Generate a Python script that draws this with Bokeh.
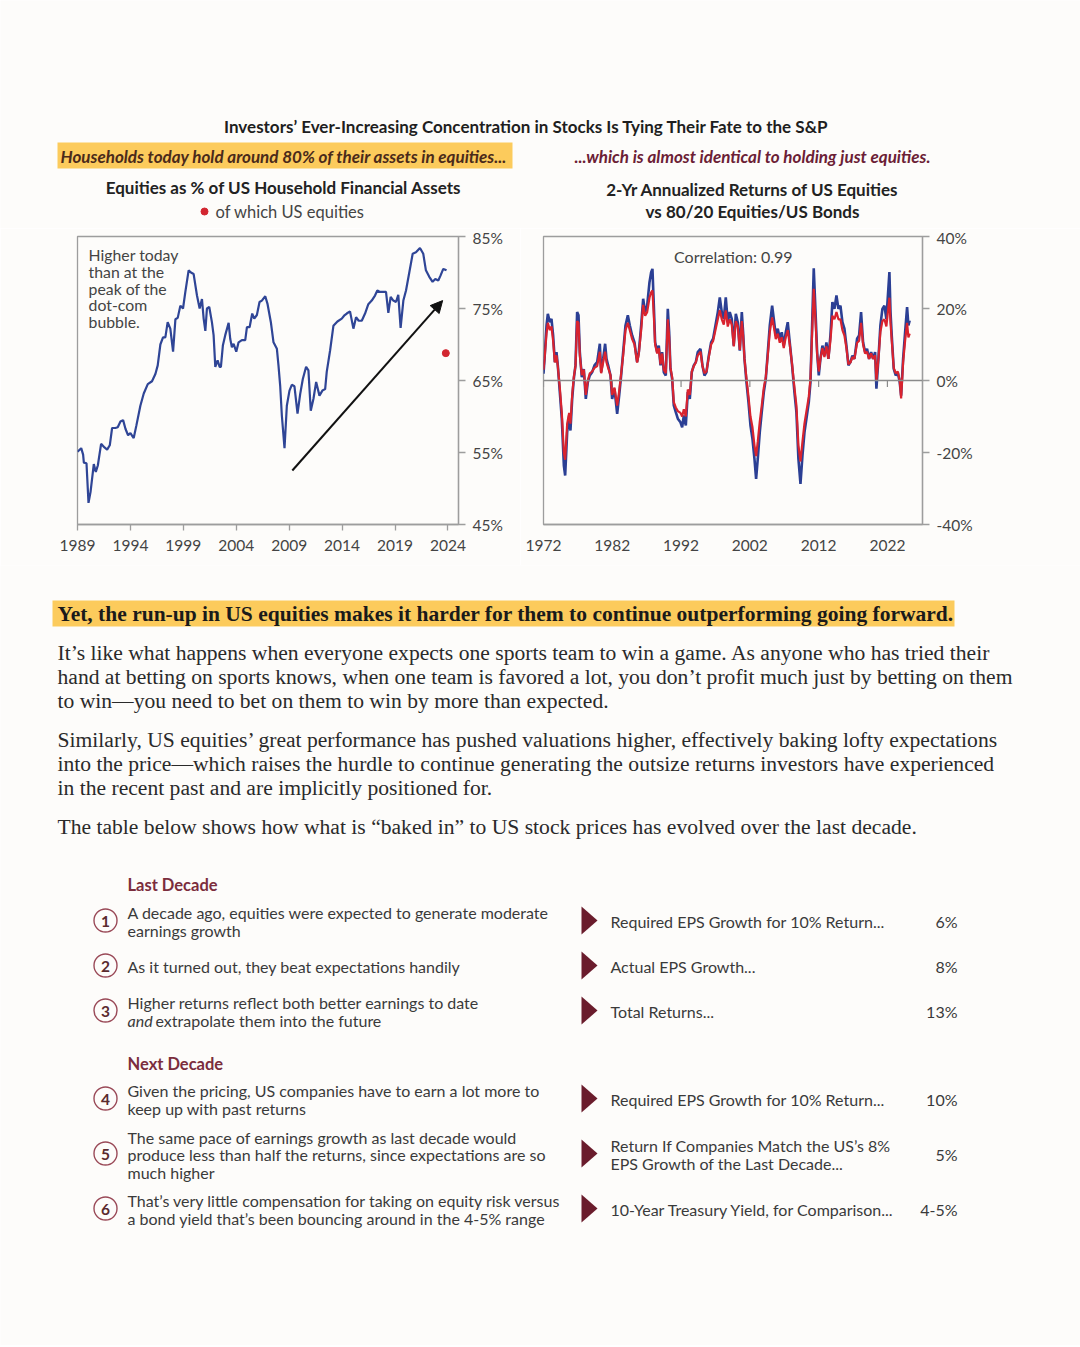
from bokeh.plotting import figure
from bokeh.layouts import column, row
from bokeh.models import Range1d, FixedTicker, PrintfTickFormatter, Span, Arrow, NormalHead
from bokeh.core.properties import value
from bokeh.embed import file_html
from bokeh.resources import INLINE

# ---------------- data ----------------
# Left chart: Equities as % of US household financial assets
hh_years = [1989.00,1989.35,1989.53,1989.60,1989.85,1990.04,1990.23,1990.54,1990.73,1990.92,
            1991.23,1991.55,1991.80,1992.05,1992.27,1992.58,1992.80,1993.06,1993.31,1993.53,
            1993.78,1994.00,1994.31,1994.57,1994.94,1995.26,1995.64,1996.04,1996.36,1996.58,
            1996.83,1997.08,1997.30,1997.52,1997.77,1998.03,1998.25,1998.47,1998.72,1998.97,
            1999.19,1999.50,1999.72,1999.97,2000.29,2000.54,2000.76,2000.92,2001.08,2001.23,
            2001.45,2001.70,2001.86,2002.02,2002.24,2002.43,2002.55,2002.74,2002.96,2003.28,
            2003.43,2003.59,2003.75,2004.00,2004.22,2004.53,2004.85,2005.01,2005.26,2005.51,
            2005.70,2005.95,2006.20,2006.42,2006.74,2006.96,2007.27,2007.52,2007.84,2007.99,
            2008.15,2008.31,2008.56,2008.78,2009.03,2009.25,2009.50,2009.79,2010.04,2010.29,
            2010.60,2010.82,2011.04,2011.30,2011.55,2011.86,2012.14,2012.40,2012.55,2012.87,
            2013.18,2013.56,2013.97,2014.19,2014.44,2014.75,2015.07,2015.32,2015.57,2015.86,
            2016.17,2016.48,2016.80,2017.11,2017.33,2017.58,2017.90,2018.15,2018.37,2018.59,
            2018.84,2019.09,2019.31,2019.53,2019.79,2020.04,2020.35,2020.67,2020.98,2021.36,
            2021.67,2021.92,2022.24,2022.55,2022.81,2023.09,2023.31,2023.56,2023.87]
hh_equity_pct = [55.1,55.6,54.7,53.6,53.5,48.0,49.5,53.4,52.3,53.2,
                 56.2,55.7,55.4,56.0,58.4,58.4,58.5,59.3,59.5,58.3,
                 57.4,57.7,57.0,58.8,61.5,63.2,64.5,64.9,65.9,67.1,
                 70.0,71.0,71.0,73.1,72.2,69.0,73.5,73.7,75.4,75.0,
                 77.3,80.3,80.0,79.8,76.8,75.0,76.3,73.6,71.9,75.0,
                 75.2,73.1,71.3,66.9,67.8,66.9,66.9,69.9,71.3,73.0,
                 70.8,69.6,70.1,69.0,70.3,70.6,70.6,72.4,72.4,74.3,
                 73.6,74.1,75.9,76.1,76.7,75.6,73.1,70.3,69.4,67.1,
                 64.3,60.1,55.6,61.5,63.6,64.4,64.2,60.4,63.1,65.2,
                 66.9,66.4,60.8,62.5,64.8,62.9,63.6,63.8,66.2,69.2,
                 72.6,73.2,73.6,74.0,74.3,74.6,72.2,73.8,73.3,73.3,
                 74.3,75.6,76.1,76.8,77.5,77.3,77.3,77.3,74.4,76.6,
                 76.1,75.9,76.9,72.3,76.1,77.5,80.0,82.6,82.8,83.4,
                 82.6,80.3,79.4,78.7,79.1,78.9,79.6,80.5,80.3]
us_only_year = [2023.8]
us_only_pct = [68.8]
trend_arrow = dict(x_start=2009.3, y_start=52.5, x_end=2023.5, y_end=76.1)

# Right chart: 2-yr annualized returns
ret_years = [1972.00,1972.15,1972.44,1972.63,1972.92,1973.16,1973.40,1973.65,1973.89,1974.08,
             1974.37,1974.66,1974.96,1975.15,1975.44,1975.73,1975.92,1976.17,1976.41,1976.65,
             1976.89,1977.09,1977.28,1977.57,1977.86,1978.15,1978.44,1978.73,1979.07,1979.41,
             1979.80,1980.19,1980.38,1980.67,1980.96,1981.16,1981.40,1981.74,1981.98,1982.32,
             1982.71,1983.00,1983.29,1983.58,1983.92,1984.26,1984.55,1984.89,1985.23,1985.61,
             1985.86,1986.20,1986.49,1986.78,1987.07,1987.41,1987.65,1987.84,1988.04,1988.23,
             1988.52,1988.76,1989.01,1989.25,1989.49,1989.78,1990.07,1990.27,1990.46,1990.70,
             1990.94,1991.23,1991.53,1991.91,1992.16,1992.40,1992.69,1992.98,1993.27,1993.56,
             1993.85,1994.14,1994.43,1994.82,1995.11,1995.40,1995.69,1996.03,1996.37,1996.66,
             1997.00,1997.34,1997.63,1997.92,1998.21,1998.50,1998.79,1999.08,1999.37,1999.66,
             1999.96,2000.25,2000.54,2000.83,2001.02,2001.22,2001.51,2001.80,2002.09,2002.38,
             2002.67,2002.91,2003.15,2003.44,2003.73,2004.03,2004.32,2004.61,2004.90,2005.24,
             2005.48,2005.77,2006.06,2006.35,2006.64,2006.93,2007.22,2007.51,2007.80,2008.14,
             2008.48,2008.77,2009.06,2009.36,2009.65,2009.94,2010.23,2010.57,2010.81,2011.05,
             2011.29,2011.53,2011.78,2012.02,2012.26,2012.55,2012.84,2013.13,2013.42,2013.71,
             2014.00,2014.30,2014.59,2014.88,2015.17,2015.46,2015.75,2016.04,2016.33,2016.62,
             2016.91,2017.20,2017.59,2017.88,2018.17,2018.46,2018.75,2019.04,2019.33,2019.63,
             2019.92,2020.21,2020.40,2020.69,2020.98,2021.27,2021.56,2021.85,2022.29,2022.45,
             2022.63,2022.92,2023.21,2023.50,2023.79,2023.99,2024.28,2024.57,2024.86,2025.05,
             2025.24]
ret_us_equities = [1.9,6.0,15.3,18.5,16.2,17.1,12.5,5.1,7.9,4.2,
                   -3.2,-10.6,-23.6,-26.4,-14.4,-9.7,-13.9,-5.1,0.5,4.2,
                   19.0,18.1,7.9,0.9,3.2,-5.1,-0.5,1.4,2.3,4.2,
                   5.1,10.2,2.3,6.0,10.2,6.0,4.2,1.4,-5.1,-2.3,
                   -9.3,-4.2,1.4,7.9,15.3,18.1,15.3,12.5,10.6,5.1,
                   7.9,15.3,22.7,19.0,20.8,27.3,30.1,31.0,20.8,10.6,
                   7.9,9.7,4.2,7.9,2.3,1.4,19.9,13.4,3.2,0.5,
                   -6.9,-8.8,-10.6,-11.6,-13.0,-9.7,-12.5,-3.2,-5.1,2.3,
                   4.2,5.1,7.9,8.8,4.2,1.4,2.3,6.9,10.6,11.6,
                   15.3,19.0,23.1,19.0,17.1,23.1,16.2,19.0,17.1,9.7,
                   18.5,16.2,8.3,19.0,13.4,6.0,-0.5,-6.0,-12.5,-16.2,
                   -21.8,-27.3,-21.8,-14.4,-8.8,-3.2,0.5,7.9,15.3,20.8,
                   17.1,12.5,14.4,11.6,13.4,9.7,13.4,16.2,10.6,4.2,
                   -3.2,-8.8,-21.8,-28.7,-20.8,-14.4,-10.6,-6.0,-0.5,15.3,
                   31.2,19.9,7.9,1.4,6.0,9.7,6.9,10.6,6.0,12.5,
                   21.8,19.9,23.6,19.9,20.8,16.2,14.4,9.7,4.2,5.1,
                   6.9,6.0,11.6,12.5,19.0,10.6,7.9,8.8,6.0,7.9,
                   6.0,7.9,-2.3,6.0,15.3,19.9,20.8,17.1,30.1,19.0,
                   12.5,3.2,1.4,2.3,-0.5,-4.2,6.0,13.4,20.4,15.3,
                   16.7]
ret_80_20 = [3.0,6.0,13.0,16.0,14.0,15.0,11.0,5.0,7.0,4.0,
             -2.0,-9.0,-20.0,-22.0,-12.0,-9.0,-12.0,-4.0,1.0,4.0,
             16.5,16.0,7.0,1.5,3.0,-4.0,0.0,2.0,2.5,3.5,
             4.0,8.0,2.0,5.0,8.0,5.0,3.5,1.5,-4.0,-2.0,
             -7.0,-3.0,2.0,7.0,14.0,16.0,14.0,11.5,10.0,5.0,
             7.5,14.0,21.0,18.0,19.0,23.0,24.5,25.0,18.0,10.0,
             7.5,9.0,4.5,7.5,3.0,2.0,17.0,12.0,3.5,1.0,
             -6.0,-7.5,-8.5,-9.0,-10.0,-8.0,-10.0,-2.5,-4.0,2.5,
             4.0,5.0,7.0,8.0,4.0,2.0,2.5,6.5,10.0,11.0,
             14.0,17.0,19.5,17.0,15.5,19.5,15.0,17.0,15.5,9.5,
             16.5,15.0,8.5,16.5,12.5,6.0,0.5,-4.5,-10.0,-13.0,
             -18.0,-21.0,-17.0,-11.5,-7.0,-2.0,1.0,7.0,13.5,17.5,
             15.0,11.5,13.0,10.5,12.0,9.0,12.0,14.0,10.0,4.5,
             -2.0,-7.0,-18.0,-22.5,-17.0,-12.0,-8.5,-4.5,0.5,13.0,
             25.5,17.0,7.5,2.5,6.0,9.0,6.5,9.5,6.0,11.0,
             18.0,17.0,19.0,17.0,17.0,14.0,12.5,9.0,4.5,5.0,
             6.5,6.0,10.5,11.0,16.0,10.0,7.5,8.0,6.0,7.5,
             6.0,7.0,0.0,6.0,13.5,16.5,17.0,15.0,23.0,16.0,
             11.0,3.5,2.0,2.5,0.0,-5.0,5.0,11.0,16.0,12.0,
             13.0]
correlation_label = "Correlation: 0.99"

left_x_ticks = [1989, 1994, 1999, 2004, 2009, 2014, 2019, 2024]
left_y_ticks = [45, 55, 65, 75, 85]
right_x_ticks = [1972, 1982, 1992, 2002, 2012, 2022]
right_y_ticks = [-40, -20, 0, 20, 40]

annotation_lines = ["Higher today", "than at the", "peak of the", "dot-com", "bubble."]

# Table
section_titles = ["Last Decade", "Next Decade"]
row_numbers = ["1", "2", "3", "4", "5", "6"]
row_desc = [
    ["A decade ago, equities were expected to generate moderate", "earnings growth"],
    ["As it turned out, they beat expectations handily"],
    ["Higher returns reflect both better earnings to date", "*and* extrapolate them into the future"],
    ["Given the pricing, US companies have to earn a lot more to", "keep up with past returns"],
    ["The same pace of earnings growth as last decade would",
     "produce less than half the returns, since expectations are so", "much higher"],
    ["That\u2019s very little compensation for taking on equity risk versus",
     "a bond yield that\u2019s been bouncing around in the 4-5% range"],
]
row_metric = [
    ["Required EPS Growth for 10% Return..."],
    ["Actual EPS Growth..."],
    ["Total Returns..."],
    ["Required EPS Growth for 10% Return..."],
    ["Return If Companies Match the US\u2019s 8%", "EPS Growth of the Last Decade..."],
    ["10-Year Treasury Yield, for Comparison..."],
]
row_value = ["6%", "8%", "13%", "10%", "5%", "4-5%"]

paragraphs = [
    ["It\u2019s like what happens when everyone expects one sports team to win a game. As anyone who has tried their",
     "hand at betting on sports knows, when one team is favored a lot, you don\u2019t profit much just by betting on them",
     "to win\u2014you need to bet on them to win by more than expected."],
    ["Similarly, US equities\u2019 great performance has pushed valuations higher, effectively baking lofty expectations",
     "into the price\u2014which raises the hurdle to continue generating the outsize returns investors have experienced",
     "in the recent past and are implicitly positioned for."],
    ["The table below shows how what is \u201cbaked in\u201d to US stock prices has evolved over the last decade."],
]

# ---------------- style ----------------
BG = "#fdfcfa"
SANS = "Lato"
SERIF = "Liberation Serif"
YELLOW = "#fccb5c"
MAROON = "#6a1c2c"
AXIS_GRAY = "#9d9d9d"
LABEL_GRAY = "#444444"


def canvas(w, h, x0, y0):
    p = figure(width=w, height=h, x_range=Range1d(x0, x0 + w), y_range=Range1d(y0 + h, y0),
               x_axis_type=None, y_axis_type=None, output_backend="svg", toolbar_location=None,
               min_border=0)
    p.grid.visible = False
    p.outline_line_color = None
    p.background_fill_color = BG
    p.border_fill_color = BG
    return p


def txt(p, x, y, s, size=15, color="#333333", font=SANS, style="normal", align="left"):
    p.text(x=[x], y=[y], text=[s], text_font=value(font), text_font_size=f"{size}px",
           text_color=color, text_font_style=style, text_align=align, text_baseline="middle")


# ---------------- header (page y 0..228) ----------------
head = canvas(1080, 228, 0, 0)
txt(head, 526, 126, "Investors\u2019 Ever-Increasing Concentration in Stocks Is Tying Their Fate to the S&P",
    size=17, color="#1e1e1e", style="bold", align="center")
head.quad(left=[57], right=[512], top=[142], bottom=[168], fill_color=YELLOW, line_color=None)
txt(head, 60, 156, "Households today hold around 80% of their assets in equities...",
    size=17, color="#4a2a1a", style="bold italic")
txt(head, 752, 156, "...which is almost identical to holding just equities.",
    size=17, color="#6b2035", style="bold italic", align="center")
txt(head, 283, 187, "Equities as % of US Household Financial Assets", size=17, color="#222222",
    style="bold", align="center")
head.scatter(x=[204], y=[211], size=7, color="#d22630")
txt(head, 215, 211, "of which US equities", size=16.5, color=LABEL_GRAY)
txt(head, 752, 189, "2-Yr Annualized Returns of US Equities", size=17, color="#222222",
    style="bold", align="center")
txt(head, 752, 211, "vs 80/20 Equities/US Bonds", size=17, color="#222222", style="bold", align="center")


def style_axes(p):
    p.grid.visible = False
    p.background_fill_color = BG
    p.border_fill_color = BG
    p.outline_line_color = AXIS_GRAY
    p.outline_line_width = 1.3
    for ax in p.axis:
        ax.axis_line_color = AXIS_GRAY
        ax.axis_line_width = 1.3
        ax.major_tick_line_color = AXIS_GRAY
        ax.major_tick_line_width = 1.3
        ax.minor_tick_line_color = None
        ax.major_tick_in = 0
        ax.major_tick_out = 7
        ax.major_label_standoff = 7
        ax.major_label_text_font = SANS
        ax.major_label_text_font_size = "15.5px"
        ax.major_label_text_color = LABEL_GRAY


# ---------------- left chart (page x 0..520, y 228..565) ----------------
pl = figure(width=520, height=337, x_range=Range1d(1989, 2025), y_range=Range1d(45, 85),
            y_axis_location="right", output_backend="svg", toolbar_location=None,
            min_border_left=77, min_border_right=62, min_border_top=8, min_border_bottom=41)
style_axes(pl)
pl.xaxis.ticker = FixedTicker(ticks=left_x_ticks)
pl.xaxis.major_tick_out = 6
pl.xaxis.major_label_standoff = 9
pl.yaxis.ticker = FixedTicker(ticks=left_y_ticks)
pl.yaxis.formatter = PrintfTickFormatter(format="%d%%")
pl.line(hh_years, hh_equity_pct, line_color="#2f4596", line_width=2.2)
pl.scatter(us_only_year, us_only_pct, size=7, color="#d22630")
pl.add_layout(Arrow(end=NormalHead(size=12, fill_color="#111111", line_color="#111111"),
                    line_color="#111111", line_width=2, **trend_arrow))
for i, s in enumerate(annotation_lines):
    pl.text(x=[1990.05], y=[82.5 - i * 2.33], text=[s], text_font=value(SANS), text_font_size="15.8px",
            text_color=LABEL_GRAY, text_baseline="middle", text_align="left")

# ---------------- right chart (page x 520..1080, y 228..565) ----------------
pr = figure(width=560, height=337, x_range=Range1d(1972, 2027.1), y_range=Range1d(-40, 40),
            y_axis_location="right", output_backend="svg", toolbar_location=None,
            min_border_left=23, min_border_right=158, min_border_top=8, min_border_bottom=41)
style_axes(pr)
pr.xaxis.ticker = FixedTicker(ticks=right_x_ticks)
pr.xaxis.major_tick_line_color = None
pr.xaxis.major_label_standoff = 8
pr.yaxis.ticker = FixedTicker(ticks=right_y_ticks)
pr.yaxis.formatter = PrintfTickFormatter(format="%d%%")
pr.add_layout(Span(location=0, dimension="width", line_color="#8a8a8a", line_width=1.5))
pr.segment(x0=right_x_ticks, x1=right_x_ticks, y0=[0] * len(right_x_ticks), y1=[-1.8] * len(right_x_ticks),
           line_color="#8a8a8a", line_width=1.2)
pr.line(ret_years, ret_us_equities, line_color="#2b3f94", line_width=2.6)
pr.line(ret_years, ret_80_20, line_color="#d9232e", line_width=2.2)
pr.text(x=[1999.6], y=[34.4], text=[correlation_label], text_font=value(SANS), text_font_size="16px",
        text_color=LABEL_GRAY, text_baseline="middle", text_align="center")

# ---------------- bottom text & table (page y 565..1345) ----------------
bot = canvas(1080, 780, 0, 565)
bot.quad(left=[52], right=[954], top=[600], bottom=[626], fill_color=YELLOW, line_color=None)
txt(bot, 57, 613, "Yet, the run-up in US equities makes it harder for them to continue outperforming going forward.",
    size=21.5, color="#1a1a1a", font=SERIF, style="bold")
para_y = [[652, 676, 700], [739, 763, 787], [826]]
for lines, ys in zip(paragraphs, para_y):
    for s, y in zip(lines, ys):
        txt(bot, 57, y, s, size=21.6, color="#2a2a2a", font=SERIF)

txt(bot, 127, 884, section_titles[0], size=16.5, color="#7b2d3d", style="bold")
txt(bot, 127, 1063, section_titles[1], size=16.5, color="#7b2d3d", style="bold")
row_centers = [920, 965, 1010, 1098, 1153, 1208]
bot.scatter(x=[105] * 6, y=row_centers, size=23, marker="circle", fill_color=BG,
            line_color="#9a4a58", line_width=1.4)
bot.text(x=[105] * 6, y=[c + 0.5 for c in row_centers], text=row_numbers, text_font=value(SANS),
         text_font_size="15.5px", text_font_style="bold", text_color="#5a2a2e",
         text_align="center", text_baseline="middle")
tri_x, tri_y = [], []
for c in row_centers:
    tri_x.append([581, 597, 581])
    tri_y.append([c - 14, c, c + 14])
bot.patches(tri_x, tri_y, fill_color=MAROON, line_color=None)
LH = 17.5
TS = 16
for c, desc, met, val in zip(row_centers, row_desc, row_metric, row_value):
    n = len(desc)
    for i, s in enumerate(desc):
        y = c + 1 + (i - (n - 1) / 2) * LH
        if s.startswith("*and*"):
            txt(bot, 127, y, "and", size=TS, color="#3a3a3a", style="italic")
            txt(bot, 155, y, s[6:], size=TS, color="#3a3a3a")
        else:
            txt(bot, 127, y, s, size=TS, color="#3a3a3a")
    m = len(met)
    for i, s in enumerate(met):
        y = c + 1 + (i - (m - 1) / 2) * LH
        txt(bot, 610, y, s, size=TS, color="#3a3a3a")
    txt(bot, 957, c + 1, val, size=TS, color="#3a3a3a", align="right")

layout = column(head, row(pl, pr), bot)
html = file_html(layout, INLINE, title="Investors' Concentration in Stocks")
html = html.replace("<body>", '<body style="background-color:%s;">' % BG, 1)
open("out.html", "w").write(html)
